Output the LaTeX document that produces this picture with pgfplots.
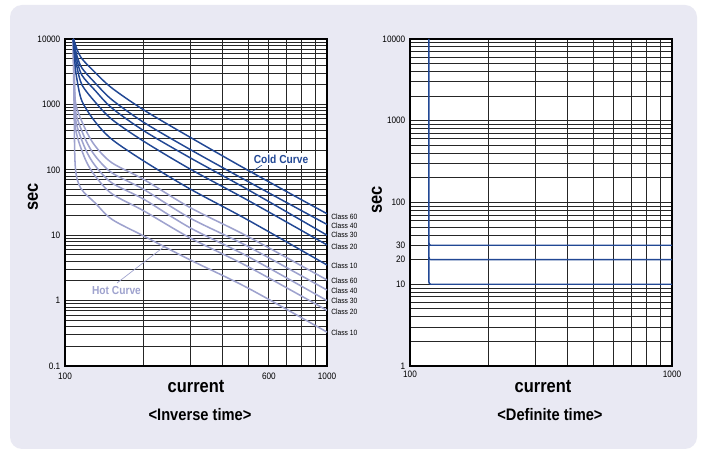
\documentclass[border=0pt]{standalone}
\usepackage{fontspec}
\setmainfont{Liberation Sans}[FakeStretch=0.88]
\usepackage{pgfplots}
\pgfplotsset{compat=1.18}
\definecolor{cold}{RGB}{33,71,148}
\definecolor{hot}{RGB}{158,162,206}
\definecolor{panel}{RGB}{233,233,243}
\begin{document}
\begin{tikzpicture}
\begin{scope}[x=0.75pt,y=0.75pt]
\fill[white] (0,0) rectangle (704,450);
\fill[panel, rounded corners=9pt] (10,1) rectangle (697,445);
\end{scope}

% ---------- Inverse time ----------
\begin{loglogaxis}[at={(48.75pt,63pt)}, anchor=south west,
  scale only axis, width=196.5pt, height=245.25pt,
  xmin=100, xmax=1000, ymin=0.1, ymax=10000,
  axis background/.style={fill=white},
  xmajorgrids, ymajorgrids, xminorgrids, yminorgrids,
  major grid style={black!85, line width=0.65pt},
  minor grid style={black!85, line width=0.65pt},
  axis line style={black, line width=0.9pt},
  major tick length=0pt, minor tick length=0pt,
  tick label style={font=\fontsize{7}{8}\selectfont},
  xticklabel style={yshift=-2pt},
  /pgf/number format/assume math mode=true,
  xtick={100,600,1000}, xticklabels={100,600,1000},
  minor xtick={200,300,400,500,700,800,900},
  ytick={0.1,1,10,100,1000,10000}, yticklabels={0.1,1,10,100,1000,10000},
  minor ytick={0.2,0.3,0.4,0.5,0.6,0.7,0.8,0.9,2,3,4,5,6,7,8,9,20,30,40,50,60,70,80,90,200,300,400,500,600,700,800,900,2000,3000,4000,5000,6000,7000,8000,9000},
]
% hot curves
\addplot[hot, line width=1.15pt, smooth] coordinates {(107.5,10000)(108.5,3000)(110,1000)(119.5,420)(130.5,230)(151,128)(200,71)(300,26.5)(500,9.5)(1000,2.07)};
\addplot[hot, line width=1.15pt, smooth] coordinates {(107.5,10000)(108.5,2400)(110,750)(119.5,295)(130.5,162)(151,90)(200,50)(300,18.3)(500,6.7)(1000,1.45)};
\addplot[hot, line width=1.15pt, smooth] coordinates {(107.5,10000)(108.5,1900)(110,560)(119.5,210)(130.5,115)(151,63)(200,35.4)(300,13)(500,4.7)(1000,1.0)};
\addplot[hot, line width=1.15pt, smooth] coordinates {(107.5,10000)(108.5,1400)(110,400)(119.5,145)(130.5,80)(151,43)(200,23.5)(300,9.1)(500,3.3)(1000,0.71)};
\addplot[hot, line width=1.15pt, smooth] coordinates {(107.5,10000)(108.3,1000)(109.5,110)(115,52)(130.5,31)(151,17.5)(200,9.7)(300,4.2)(500,1.55)(1000,0.33)};
% cold curves
\addplot[cold, line width=1.1pt, smooth] coordinates {(107.5,10000)(109,8800)(111,7000)(116,5000)(130,3100)(151,1780)(200,820)(300,315)(500,98)(1000,21.3)};
\addplot[cold, line width=1.1pt, smooth] coordinates {(107.5,10000)(109,7800)(111,5600)(116,3600)(130,2150)(151,1180)(200,530)(300,205)(500,66)(1000,14.6)};
\addplot[cold, line width=1.1pt, smooth] coordinates {(107.5,10000)(109,7000)(111,4800)(116,2800)(130,1650)(151,880)(200,395)(300,153)(500,49.5)(1000,10)};
\addplot[cold, line width=1.1pt, smooth] coordinates {(107.5,10000)(109,6000)(111,3800)(116,2000)(130,1100)(151,590)(200,272)(300,103)(500,34)(1000,7.1)};
\addplot[cold, line width=1.1pt, smooth] coordinates {(107.5,10000)(109,4500)(111,2450)(116,1130)(130,550)(151,292)(200,136)(300,51)(500,17)(1000,3.5)};
\end{loglogaxis}

% ---------- Definite time ----------
\begin{loglogaxis}[at={(307.5pt,63pt)}, anchor=south west,
  scale only axis, width=196.5pt, height=245.25pt,
  xmin=100, xmax=1000, ymin=1, ymax=10000,
  axis background/.style={fill=white},
  xmajorgrids, ymajorgrids, xminorgrids, yminorgrids,
  major grid style={black!85, line width=0.65pt},
  minor grid style={black!85, line width=0.65pt},
  axis line style={black, line width=0.9pt},
  major tick length=0pt, minor tick length=0pt,
  tick label style={font=\fontsize{7}{8}\selectfont},
  /pgf/number format/assume math mode=true,
  xtick={100,1000}, xticklabels={100,1000},
  minor xtick={200,300,400,500,600,700,800,900},
  ytick={1,10,20,30,100,1000,10000}, yticklabels={1,10,20,30,100,1000,10000},
  minor ytick={2,3,4,5,6,7,8,9,40,50,60,70,80,90,200,300,400,500,600,700,800,900,2000,3000,4000,5000,6000,7000,8000,9000},
]
\addplot[cold, line width=1.1pt] coordinates {(118,10000)(118,10.7)(118.6,10.2)(120,10)(1000,10)};
\addplot[cold, line width=1.1pt] coordinates {(118,32)(118.6,30.4)(120,30)(1000,30)};
\addplot[cold, line width=1.1pt] coordinates {(118,21.4)(118.6,20.3)(120,20)(1000,20)};
\end{loglogaxis}

% ---------- texts ----------
\begin{scope}[x=0.75pt,y=0.75pt]
\node[font=\fontsize{14}{16}\selectfont\bfseries, rotate=90] at (33,253) {sec};
\node[font=\fontsize{14}{16}\selectfont\bfseries] at (196,63) {current};
\node[font=\fontsize{12.5}{14}\selectfont\bfseries] at (200,35) {<Inverse time>};
\node[font=\fontsize{14}{16}\selectfont\bfseries, rotate=90] at (377,250) {sec};
\node[font=\fontsize{14}{16}\selectfont\bfseries] at (543,63) {current};
\node[font=\fontsize{12.5}{14}\selectfont\bfseries] at (550,35) {<Definite time>};

\begin{scope}[every node/.style={anchor=west, inner sep=0pt, font=\fontsize{5.7}{6}\selectfont}]
\node at (331,233) {Class 60};
\node at (331,224) {Class 40};
\node at (331,215) {Class 30};
\node at (331,203.3) {Class 20};
\node at (331,184) {Class 10};
\node at (331,169) {Class 60};
\node at (331,159) {Class 40};
\node at (331,149.3) {Class 30};
\node at (331,138) {Class 20};
\node at (331,117) {Class 10};
\end{scope}

\draw[cold, line width=0.5pt] (250,277) -- (262,285);
\node[fill=white, inner sep=1.5pt, text=cold, font=\fontsize{8.7}{10}\selectfont\bfseries] at (281,291) {Cold Curve};
\draw[hot, line width=0.5pt] (117,167) -- (165,204);
\node[inner sep=1pt, text=hot, font=\fontsize{8.7}{10}\selectfont\bfseries] at (116.5,159) {Hot Curve};
\end{scope}
\end{tikzpicture}
\end{document}
